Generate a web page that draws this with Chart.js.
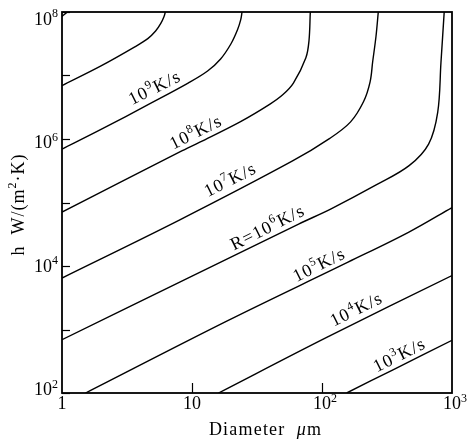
<!DOCTYPE html>
<html><head><meta charset="utf-8">
<script src="https://cdn.jsdelivr.net/npm/chart.js@4/dist/chart.umd.min.js"></script>
<style>html,body{margin:0;padding:0;background:#fff}</style>
</head><body>
<canvas id="c" width="471" height="440"></canvas>
<script>
// Cooling-rate contours R (K/s): log10 diameter (µm) and log10 h (W/(m²·K))
const r11LogD = [0, 0.02, 0.04];
const r11LogH = [7.93, 7.965, 8.0];
const r10LogD = [0, 0.30, 0.56, 0.66, 0.72, 0.76, 0.785, 0.795];
const r10LogH = [6.84, 7.15, 7.45, 7.58, 7.70, 7.82, 7.93, 8.0];
const r9LogD = [0, 0.30, 0.68, 0.97, 1.12, 1.22, 1.30, 1.35, 1.375, 1.385];
const r9LogH = [5.84, 6.15, 6.56, 6.88, 7.07, 7.26, 7.50, 7.72, 7.88, 8.0];
const r8LogD = [0, 0.45, 0.91, 1.06, 1.37, 1.60, 1.70, 1.78, 1.876, 1.90, 1.91];
const r8LogH = [4.85, 5.32, 5.80, 5.95, 6.27, 6.55, 6.70, 6.88, 7.28, 7.55, 8.0];
const r7LogD = [0, 0.91, 1.77, 2.06, 2.22, 2.32, 2.37, 2.39, 2.415, 2.433];
const r7LogH = [3.81, 4.73, 5.65, 6.01, 6.27, 6.59, 6.90, 7.22, 7.61, 8.0];
const r6LogD = [0, 1.0, 1.82, 2.07, 2.42, 2.67, 2.82, 2.89, 2.915, 2.94];
const r6LogH = [2.84, 3.84, 4.66, 4.90, 5.28, 5.58, 5.92, 6.42, 7.20, 8.0];
const r5LogD = [0.181, 1.275, 2.2, 2.665, 3.0];
const r5LogH = [2.0, 3.14, 4.06, 4.53, 4.92];
const r4LogD = [1.204, 2.04, 3.0];
const r4LogH = [2.0, 2.88, 3.85];
const r3LogD = [2.19, 2.55, 3.0];
const r3LogH = [2.0, 2.37, 2.83];

const curves = [
  [r11LogD, r11LogH], [r10LogD, r10LogH], [r9LogD, r9LogH], [r8LogD, r8LogH],
  [r7LogD, r7LogH], [r6LogD, r6LogH], [r5LogD, r5LogH], [r4LogD, r4LogH], [r3LogD, r3LogH]
];

// Curve labels: exponent of R, prefix, anchor (log10 D, log10 h) of the text centre
const labelExps = [9, 8, 7, 6, 5, 4, 3];
const labelPrefix = ['', '', '', 'R=', '', '', ''];
const labelLogD = [0.707, 1.025, 1.289, 1.576, 1.972, 2.259, 2.59];
const labelLogH = [6.81, 6.11, 5.36, 4.61, 4.02, 3.32, 2.60];

// Axis ticks
const xTicks = [1, 10, 100, 1000];
const xTickBase = ['1', '10', '10', '10'];
const xTickExp = ['', '', '2', '3'];
const yTicks = [1e2, 1e3, 1e4, 1e5, 1e6, 1e7, 1e8];
const yLabelVals = [1e2, 1e4, 1e6, 1e8];
const yLabelExp = ['2', '4', '6', '8'];

const FONT = '"Liberation Serif", "DejaVu Serif", serif';

function drawRich(ctx, parts, x, y, align, ls) {
  let total = 0;
  const items = [];
  parts.forEach(p => {
    const f = (p.it ? 'italic ' : '') + (p.sup ? '12px ' : '18px ') + FONT;
    ctx.font = f;
    for (const ch of p.t) {
      const w = ctx.measureText(ch).width;
      items.push({ch, f, w, dy: p.sup ? -7.5 : 0});
      total += w + ls;
    }
  });
  total -= ls;
  let cx = align === 'center' ? x - total / 2 : align === 'right' ? x - total : x;
  items.forEach(it => {
    ctx.font = it.f;
    ctx.fillText(it.ch, cx, y + it.dy);
    cx += it.w + ls;
  });
  return total;
}

const deco = {
  id: 'deco',
  afterDraw(chart) {
    const {ctx, chartArea: a, scales: {x, y}} = chart;
    ctx.save();
    ctx.strokeStyle = '#000';
    ctx.fillStyle = '#000';
    ctx.lineWidth = 1.8;
    ctx.strokeRect(a.left, a.top, a.right - a.left, a.bottom - a.top);
    ctx.lineWidth = 1.2;
    yTicks.forEach(v => {
      const py = Math.round(y.getPixelForValue(v)) + 0.5;
      ctx.beginPath(); ctx.moveTo(a.left, py); ctx.lineTo(a.left + 8, py); ctx.stroke();
    });
    xTicks.slice(1, -1).forEach(v => {
      const px = Math.round(x.getPixelForValue(v)) + 0.5;
      ctx.beginPath(); ctx.moveTo(px, a.bottom); ctx.lineTo(px, a.bottom - 10); ctx.stroke();
    });
    ctx.textBaseline = 'alphabetic';
    ctx.textAlign = 'left';
    // x tick labels
    xTicks.forEach((v, i) => {
      const px = x.getPixelForValue(v);
      ctx.font = '18px ' + FONT;
      const bw = ctx.measureText(xTickBase[i]).width;
      drawRich(ctx, [{t: xTickBase[i]}], px - bw / 2, a.bottom + 16, 'left', 0);
      if (xTickExp[i]) drawRich(ctx, [{t: xTickExp[i], sup: true}], px + bw / 2, a.bottom + 16, 'left', 0);
    });
    // y tick labels
    yLabelVals.forEach((v, i) => {
      const py = y.getPixelForValue(v);
      drawRich(ctx, [{t: '10'}, {t: yLabelExp[i], sup: true}], a.left - 4, py + 2 + 3.5 * i, 'right', 0);
    });
    // axis titles
    drawRich(ctx, [{t: 'Diameter  '}, {t: 'μ', it: true}, {t: 'm'}], 265, 435, 'center', 1.2);
    ctx.save();
    ctx.translate(18, 205);
    ctx.rotate(-Math.PI / 2);
    drawRich(ctx, [{t: 'h  W/(m'}, {t: '2', sup: true}, {t: '·K)'}], 0, 5.5, 'center', 1.0);
    ctx.restore();
    // curve labels
    labelExps.forEach((e, i) => {
      const px = x.getPixelForValue(Math.pow(10, labelLogD[i]));
      const py = y.getPixelForValue(Math.pow(10, labelLogH[i]));
      ctx.save();
      ctx.translate(px, py);
      ctx.rotate(-26.5 * Math.PI / 180);
      const parts = [];
      if (labelPrefix[i]) parts.push({t: labelPrefix[i]});
      parts.push({t: '10'}, {t: String(e), sup: true}, {t: 'K/s'});
      drawRich(ctx, parts, 0, 6, 'center', 1.2);
      ctx.restore();
    });
    ctx.restore();
  }
};

new Chart(document.getElementById('c'), {
  type: 'scatter',
  data: {
    datasets: curves.map(c => ({
      data: c[0].map((d, i) => ({x: Math.pow(10, d), y: Math.pow(10, c[1][i])})),
      showLine: true,
      borderColor: '#000',
      borderWidth: 1.4,
      pointRadius: 0,
      tension: 0.35,
      fill: false
    }))
  },
  options: {
    responsive: false,
    animation: false,
    devicePixelRatio: 1,
    layout: {padding: {top: 12, right: 19, left: 0, bottom: 0}},
    plugins: {legend: {display: false}, tooltip: {enabled: false}},
    scales: {
      x: {type: 'logarithmic', min: 1, max: 1000,
          grid: {display: false}, border: {display: false}, ticks: {display: false},
          afterFit(s) { s.height = 47; }},
      y: {type: 'logarithmic', min: 100, max: 1e8,
          grid: {display: false}, border: {display: false}, ticks: {display: false},
          afterFit(s) { s.width = 62; }}
    }
  },
  plugins: [deco]
});
</script>
</body></html>
